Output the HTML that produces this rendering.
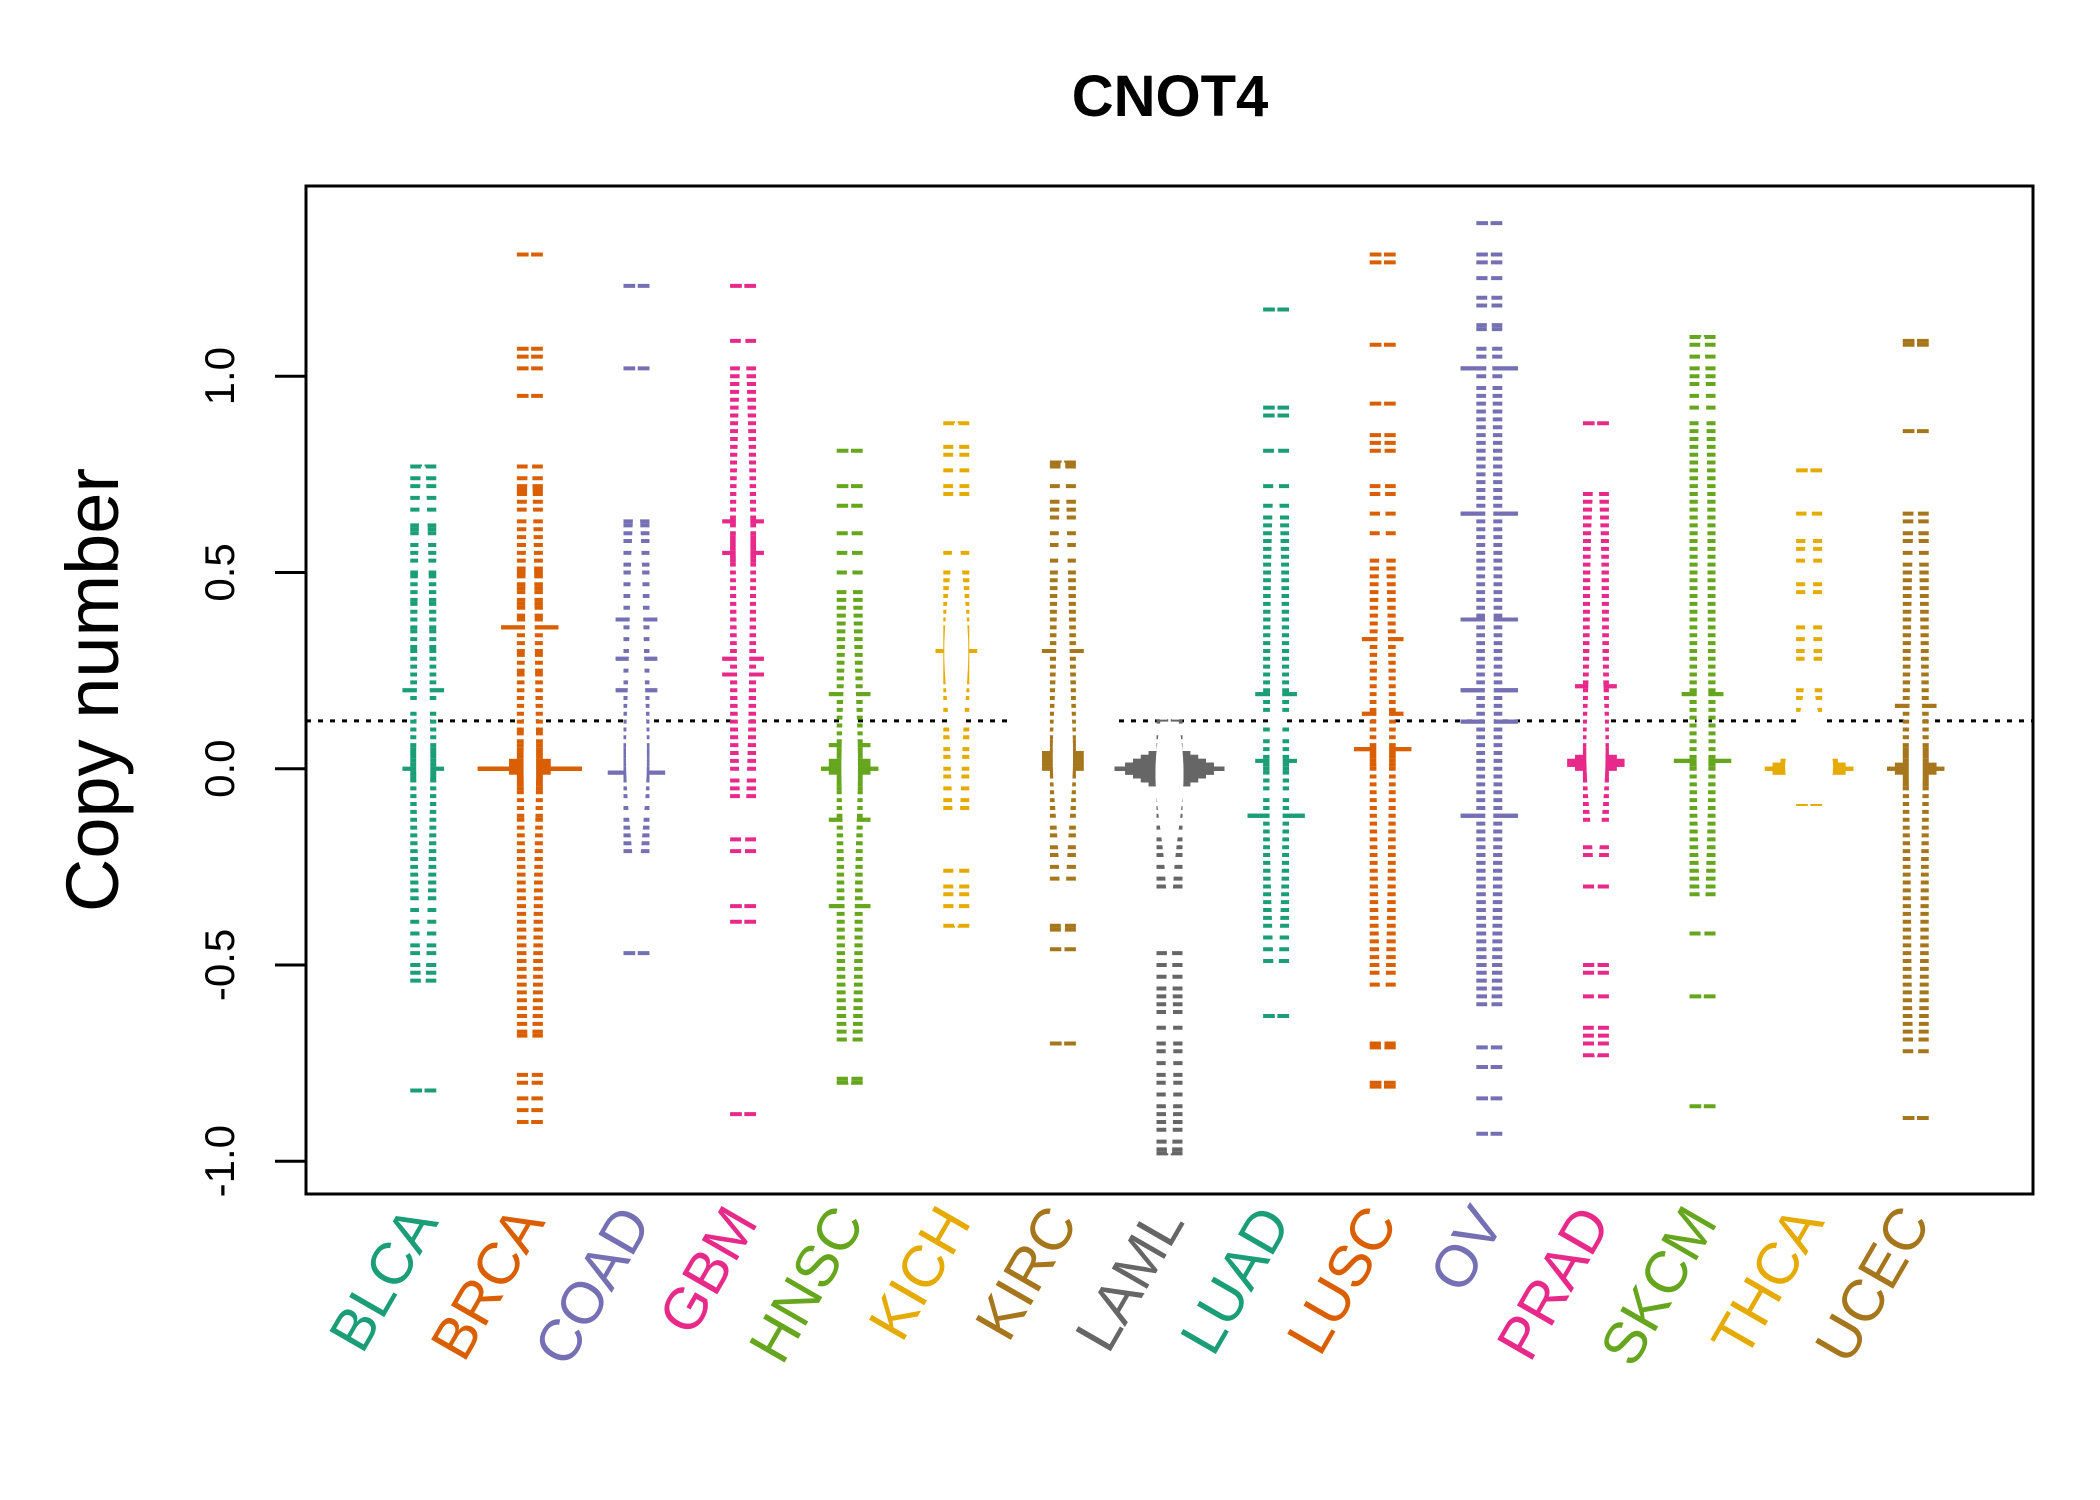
<!DOCTYPE html>
<html><head><meta charset="utf-8"><style>html,body{margin:0;padding:0;background:#fff}svg{display:block}</style></head>
<body>
<svg id="chart" xmlns="http://www.w3.org/2000/svg" width="2100" height="1500" viewBox="0 0 2100 1500" font-family="'Liberation Sans', sans-serif">
<rect width="2100" height="1500" fill="#fff"/>
<text x="1170" y="116" font-size="58" font-weight="bold" text-anchor="middle">CNOT4</text>
<text transform="translate(118,690) rotate(-90)" font-size="74" text-anchor="middle">Copy number</text>
<g id="axis"></g>
<g id="plot"></g>
<rect x="306" y="186" width="1727" height="1008" fill="none" stroke="#000" stroke-width="3"/>
</svg>
<script>
const categories = ["BLCA","BRCA","COAD","GBM","HNSC","KICH","KIRC","LAML","LUAD","LUSC","OV","PRAD","SKCM","THCA","UCEC"];
const colors = ["#1B9E77","#D95F02","#7570B3","#E7298A","#66A61E","#E6AB02","#A6761D","#666666","#1B9E77","#D95F02","#7570B3","#E7298A","#66A61E","#E6AB02","#A6761D"];
const yTicks = [-1.0,-0.5,0.0,0.5,1.0];
const yTickLabels = ["-1.0","-0.5","0.0","0.5","1.0"];
const overallLine = 0.122;
const blca = [0.77,0.74,0.72,0.69,0.66,0.62,0.61,0.6,0.57,0.55,0.53,0.5,0.49,0.47,0.45,0.43,0.42,0.4,0.38,0.36,0.35,0.33,0.31,0.3,0.28,0.26,0.24,0.22,0.2,0.2,0.18,0.14,0.12,0.1,0.08,0.06,0.05,0.04,0.03,0.02,0.01,0,0,-0.01,-0.02,-0.03,-0.05,-0.07,-0.09,-0.11,-0.13,-0.15,-0.17,-0.19,-0.21,-0.23,-0.25,-0.27,-0.29,-0.31,-0.33,-0.36,-0.39,-0.42,-0.45,-0.47,-0.5,-0.52,-0.54,-0.82];
const brca = [1.31,1.07,1.05,1.02,0.95,0.77,0.74,0.72,0.71,0.7,0.68,0.66,0.63,0.61,0.59,0.57,0.55,0.53,0.51,0.5,0.49,0.47,0.46,0.45,0.43,0.42,0.41,0.39,0.38,0.36,0.36,0.36,0.34,0.32,0.3,0.29,0.27,0.25,0.24,0.22,0.2,0.18,0.16,0.14,0.12,0.1,0.09,0.07,0.06,0.05,0.04,0.03,0.02,0.02,0.01,0.01,0,0,0,0,0,0,-0.01,-0.01,-0.02,-0.03,-0.04,-0.05,-0.06,-0.08,-0.1,-0.12,-0.13,-0.15,-0.17,-0.19,-0.21,-0.23,-0.25,-0.27,-0.29,-0.31,-0.33,-0.35,-0.37,-0.39,-0.41,-0.43,-0.45,-0.47,-0.49,-0.51,-0.53,-0.55,-0.57,-0.59,-0.61,-0.63,-0.65,-0.67,-0.68,-0.78,-0.8,-0.84,-0.87,-0.9];
const coad = [1.23,1.02,0.63,0.62,0.6,0.58,0.55,0.52,0.5,0.47,0.44,0.41,0.38,0.38,0.36,0.33,0.3,0.28,0.28,0.25,0.22,0.2,0.2,0.18,0.16,0.14,0.12,0.1,0.08,0.06,0.05,0.04,0.03,0.02,0.01,0,-0.01,-0.01,-0.01,-0.02,-0.03,-0.05,-0.07,-0.1,-0.13,-0.15,-0.17,-0.19,-0.21,-0.47];
const gbm = [1.23,1.09,1.02,1.0,0.98,0.96,0.94,0.92,0.9,0.88,0.86,0.84,0.82,0.8,0.78,0.76,0.74,0.72,0.7,0.68,0.66,0.64,0.63,0.63,0.62,0.6,0.59,0.58,0.57,0.56,0.55,0.55,0.54,0.53,0.52,0.5,0.48,0.46,0.44,0.42,0.4,0.38,0.36,0.34,0.32,0.3,0.28,0.28,0.26,0.24,0.24,0.22,0.2,0.18,0.16,0.14,0.12,0.1,0.08,0.06,0.04,0.02,0,-0.03,-0.05,-0.07,-0.18,-0.21,-0.35,-0.39,-0.88];
const hnsc = [0.81,0.72,0.67,0.6,0.55,0.5,0.45,0.43,0.41,0.39,0.37,0.35,0.33,0.31,0.29,0.27,0.25,0.23,0.21,0.19,0.19,0.17,0.15,0.13,0.11,0.09,0.07,0.06,0.06,0.05,0.04,0.03,0.02,0.02,0.01,0.01,0,0,0,-0.01,-0.01,-0.02,-0.03,-0.04,-0.05,-0.06,-0.08,-0.1,-0.12,-0.13,-0.13,-0.15,-0.17,-0.19,-0.21,-0.23,-0.25,-0.27,-0.29,-0.31,-0.33,-0.35,-0.35,-0.37,-0.39,-0.41,-0.43,-0.45,-0.47,-0.49,-0.51,-0.53,-0.55,-0.57,-0.59,-0.61,-0.63,-0.65,-0.67,-0.69,-0.79,-0.8];
const kich = [0.88,0.82,0.8,0.76,0.72,0.7,0.55,0.5,0.48,0.46,0.44,0.42,0.4,0.38,0.36,0.35,0.34,0.33,0.32,0.31,0.3,0.3,0.29,0.28,0.27,0.26,0.25,0.24,0.23,0.22,0.2,0.18,0.15,0.1,0.08,0.05,0.03,0,-0.02,-0.05,-0.08,-0.1,-0.26,-0.3,-0.32,-0.35,-0.4];
const kirc = [0.78,0.77,0.72,0.68,0.66,0.64,0.6,0.57,0.53,0.5,0.48,0.46,0.44,0.42,0.4,0.38,0.36,0.34,0.32,0.3,0.3,0.28,0.26,0.24,0.22,0.2,0.18,0.16,0.14,0.12,0.1,0.08,0.07,0.06,0.05,0.04,0.04,0.03,0.03,0.02,0.02,0.01,0.01,0,0,-0.01,-0.02,-0.04,-0.06,-0.08,-0.1,-0.12,-0.15,-0.17,-0.2,-0.22,-0.25,-0.28,-0.4,-0.41,-0.46,-0.7];
const laml = [0.12,0.08,0.06,0.05,0.04,0.04,0.03,0.03,0.03,0.02,0.02,0.02,0.02,0.01,0.01,0.01,0.01,0.01,0,0,0,0,0,0,0,-0.01,-0.01,-0.01,-0.01,-0.01,-0.02,-0.02,-0.02,-0.02,-0.03,-0.03,-0.03,-0.04,-0.04,-0.05,-0.06,-0.08,-0.1,-0.12,-0.15,-0.18,-0.2,-0.22,-0.25,-0.28,-0.3,-0.47,-0.5,-0.53,-0.56,-0.58,-0.6,-0.62,-0.66,-0.7,-0.72,-0.75,-0.78,-0.8,-0.83,-0.86,-0.88,-0.9,-0.92,-0.95,-0.97,-0.98];
const luad = [1.17,0.92,0.9,0.81,0.72,0.67,0.64,0.62,0.6,0.58,0.56,0.54,0.52,0.5,0.48,0.46,0.44,0.42,0.4,0.38,0.36,0.34,0.32,0.3,0.28,0.26,0.24,0.22,0.2,0.19,0.19,0.17,0.15,0.1,0.07,0.05,0.03,0.02,0.02,0.01,0,-0.01,-0.03,-0.05,-0.08,-0.1,-0.12,-0.12,-0.12,-0.14,-0.16,-0.18,-0.2,-0.22,-0.24,-0.26,-0.28,-0.3,-0.32,-0.34,-0.36,-0.38,-0.4,-0.43,-0.46,-0.49,-0.63];
const lusc = [1.31,1.29,1.08,0.93,0.85,0.83,0.81,0.72,0.7,0.65,0.6,0.53,0.51,0.49,0.47,0.45,0.43,0.41,0.39,0.37,0.35,0.33,0.33,0.31,0.29,0.27,0.25,0.23,0.21,0.19,0.17,0.15,0.14,0.14,0.12,0.1,0.08,0.06,0.05,0.05,0.05,0.04,0.03,0.02,0.01,0,-0.02,-0.04,-0.06,-0.08,-0.1,-0.12,-0.14,-0.16,-0.18,-0.2,-0.22,-0.24,-0.26,-0.28,-0.3,-0.32,-0.34,-0.36,-0.38,-0.4,-0.42,-0.44,-0.46,-0.48,-0.5,-0.52,-0.55,-0.7,-0.71,-0.8,-0.81];
const ov = [1.39,1.31,1.29,1.25,1.2,1.18,1.13,1.12,1.07,1.05,1.02,1.02,1.02,1.0,0.97,0.95,0.93,0.91,0.89,0.87,0.85,0.83,0.81,0.79,0.77,0.75,0.73,0.71,0.69,0.67,0.65,0.65,0.65,0.63,0.61,0.59,0.57,0.55,0.53,0.51,0.49,0.47,0.45,0.43,0.41,0.39,0.38,0.38,0.38,0.36,0.34,0.32,0.3,0.28,0.26,0.24,0.22,0.2,0.2,0.2,0.18,0.16,0.14,0.12,0.12,0.12,0.1,0.08,0.06,0.04,0.02,0,-0.02,-0.04,-0.06,-0.08,-0.1,-0.12,-0.12,-0.12,-0.14,-0.16,-0.18,-0.2,-0.22,-0.24,-0.26,-0.28,-0.3,-0.32,-0.34,-0.36,-0.38,-0.4,-0.42,-0.44,-0.46,-0.48,-0.5,-0.52,-0.54,-0.56,-0.58,-0.6,-0.71,-0.76,-0.84,-0.93];
const prad = [0.88,0.7,0.68,0.66,0.64,0.62,0.6,0.58,0.56,0.54,0.52,0.5,0.48,0.46,0.44,0.42,0.4,0.38,0.36,0.34,0.32,0.3,0.28,0.26,0.24,0.22,0.21,0.21,0.2,0.18,0.16,0.14,0.12,0.1,0.08,0.06,0.05,0.04,0.03,0.03,0.02,0.02,0.02,0.01,0.01,0.01,0,0,-0.01,-0.02,-0.03,-0.05,-0.07,-0.09,-0.11,-0.13,-0.2,-0.22,-0.3,-0.5,-0.52,-0.58,-0.66,-0.68,-0.7,-0.73];
const skcm = [1.1,1.08,1.05,1.02,1.0,0.98,0.95,0.92,0.88,0.86,0.84,0.82,0.8,0.78,0.76,0.74,0.72,0.7,0.68,0.66,0.64,0.62,0.6,0.58,0.56,0.54,0.52,0.5,0.48,0.46,0.44,0.42,0.4,0.38,0.36,0.34,0.32,0.3,0.28,0.26,0.24,0.22,0.2,0.19,0.19,0.17,0.15,0.13,0.11,0.09,0.07,0.05,0.03,0.02,0.02,0.02,0.01,0,-0.02,-0.04,-0.06,-0.08,-0.1,-0.12,-0.14,-0.16,-0.18,-0.2,-0.22,-0.24,-0.26,-0.28,-0.3,-0.32,-0.42,-0.58,-0.86];
const thca = [0.76,0.65,0.58,0.56,0.53,0.47,0.45,0.36,0.33,0.3,0.28,0.2,0.18,0.15,0.1,0.08,0.05,0.04,0.03,0.03,0.02,0.02,0.02,0.01,0.01,0.01,0.01,0,0,0,0,0,-0.01,-0.01,-0.01,-0.01,-0.02,-0.02,-0.03,-0.04,-0.05,-0.07,-0.09];
const ucec = [1.09,1.08,0.86,0.65,0.63,0.6,0.58,0.55,0.52,0.5,0.48,0.46,0.44,0.42,0.4,0.38,0.36,0.34,0.32,0.3,0.28,0.26,0.24,0.22,0.2,0.18,0.16,0.16,0.14,0.12,0.1,0.08,0.06,0.05,0.04,0.03,0.02,0.01,0.01,0,0,0,-0.01,-0.01,-0.02,-0.03,-0.04,-0.05,-0.07,-0.09,-0.11,-0.13,-0.15,-0.17,-0.19,-0.21,-0.23,-0.25,-0.27,-0.29,-0.31,-0.33,-0.35,-0.37,-0.39,-0.41,-0.43,-0.45,-0.47,-0.49,-0.51,-0.53,-0.55,-0.57,-0.59,-0.61,-0.63,-0.65,-0.67,-0.69,-0.72,-0.89];
const seriesValues = [blca,brca,coad,gbm,hnsc,kich,kirc,laml,luad,lusc,ov,prad,skcm,thca,ucec];

const NS = "http://www.w3.org/2000/svg";
const PL = 306, PR = 2033, PT = 186, PB = 1194;
function xPos(i){ return PL + (i + 1 + 0.1) / 16.2 * (PR - PL); }
function yPos(v){ return 768.7 - 392.5 * v; }
function mk(tag, attrs, parent){ const e = document.createElementNS(NS, tag); for (const k in attrs) e.setAttribute(k, attrs[k]); parent.appendChild(e); return e; }

const axis = document.getElementById('axis');
const plot = document.getElementById('plot');

yTicks.forEach((t, k) => {
  const tk = mk('line', {x1: 275, x2: PL, y1: yPos(t), y2: yPos(t), stroke: '#000', 'stroke-width': 3}, axis);
  
  
  const lb = mk('text', {transform: `translate(234,${yPos(t)}) rotate(-90)`, 'font-size': 42, 'text-anchor': 'middle'}, axis);
  lb.textContent = yTickLabels[k];
  
  
});

categories.forEach((c, i) => {
  const t = mk('text', {transform: `translate(${xPos(i) + 16},1222) rotate(-60)`, 'font-size': 59, 'text-anchor': 'end', fill: colors[i]}, axis);
  t.textContent = c;
  
  
});

[[PL, 1008], [1119, PR]].forEach(s => {
  const l = mk('line', {x1: s[0], x2: s[1], y1: yPos(overallLine), y2: yPos(overallLine), stroke: '#000', 'stroke-width': 3, 'stroke-dasharray': '5 7'}, plot);
  
  
});

function bwNrd0(a){
  const n = a.length, m = a.reduce((s, v) => s + v, 0) / n;
  const sd = Math.sqrt(a.reduce((s, v) => s + (v - m) * (v - m), 0) / (n - 1));
  const s = [...a].sort((p, q) => p - q);
  const q = p => { const h = (n - 1) * p, lo = Math.floor(h); return s[lo] + (h - lo) * ((s[lo + 1] ?? s[lo]) - s[lo]); };
  const iqr = (q(0.75) - q(0.25)) / 1.34;
  let lo = Math.min(sd, iqr); if (!(lo > 0)) lo = sd || 0.05;
  return 0.9 * lo * Math.pow(n, -0.2);
}
const dens = seriesValues.map(a => {
  const bw = bwNrd0(a), mn = Math.min(...a), mx = Math.max(...a);
  const pts = [];
  for (let k = 0; k <= 240; k++) {
    const y = mn + (mx - mn) * k / 240;
    let d = 0; a.forEach(v => { const z = (y - v) / bw; d += Math.exp(-0.5 * z * z); });
    pts.push([y, d / (a.length * bw * Math.sqrt(2 * Math.PI))]);
  }
  return pts;
});
const maxD = Math.max(...dens.map(p => Math.max(...p.map(q => q[1]))));
const wScale = 24 / maxD;

seriesValues.forEach((a, i) => {
  const cx = xPos(i), col = colors[i];
  const g = mk('g', {}, plot);
  
  
  const counts = {};
  a.forEach(v => { const k = v.toFixed(2); counts[k] = (counts[k] || 0) + 1; });
  const hw = v => Math.min(55, 13 * (1 + 0.6 * (counts[v.toFixed(2)] - 1)));
  a.forEach(v => {
    const l = mk('line', {x1: cx - hw(v), x2: cx + hw(v), y1: yPos(v), y2: yPos(v), stroke: col, 'stroke-width': 4}, g);
    
    
  });
  const gap = mk('line', {x1: cx, x2: cx, y1: yPos(Math.max(...a)) - 3, y2: yPos(Math.min(...a)) + 3, stroke: '#fff', 'stroke-width': 2.5}, g);
  
  
  const p = dens[i];
  let d = p.map((q, k) => (k ? 'L' : 'M') + (cx + q[1] * wScale).toFixed(1) + ',' + yPos(q[0]).toFixed(1)).join('');
  d += [...p].reverse().map(q => 'L' + (cx - q[1] * wScale).toFixed(1) + ',' + yPos(q[0]).toFixed(1)).join('') + 'Z';
  const poly = mk('path', {d: d, fill: '#fff', stroke: 'none'}, g);
  
  
});
</script>
</body></html>
